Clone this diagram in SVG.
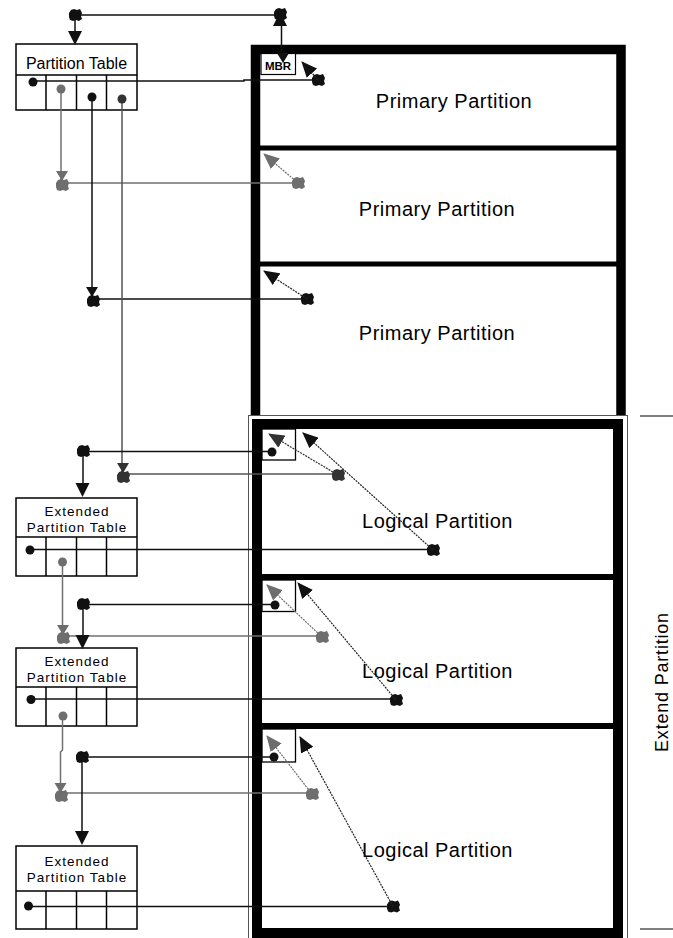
<svg xmlns="http://www.w3.org/2000/svg" xmlns:xlink="http://www.w3.org/1999/xlink" width="673" height="938" viewBox="0 0 673 938">
<style>
.lbl{font-family:"Liberation Sans",Arial,sans-serif;font-size:20px;letter-spacing:0.5px;text-anchor:middle;fill:#000}
.side{font-family:"Liberation Sans",Arial,sans-serif;font-size:18px;letter-spacing:0.8px;text-anchor:middle;fill:#000}
.tl{font-family:"Liberation Sans",Arial,sans-serif;font-size:16px;text-anchor:middle;fill:#000}
.tx{font-family:"Liberation Sans",Arial,sans-serif;font-size:13.5px;letter-spacing:1px;text-anchor:middle;fill:#000}
.box{fill:#fff;stroke:#000;stroke-width:1.5}
.ln{fill:none;stroke:#000;stroke-width:1.5}
.cb{fill:none;stroke:#111;stroke-width:1.5}
.cg{fill:none;stroke:#707070;stroke-width:1.5}
.cd{fill:none;stroke:#555;stroke-width:1.5}
.db{fill:none;stroke:#222;stroke-width:1.2;stroke-dasharray:2 1}
.dg{fill:none;stroke:#707070;stroke-width:1.2;stroke-dasharray:2 1}
.dd{fill:none;stroke:#333;stroke-width:1.2;stroke-dasharray:2 1}
.k{fill:#111}.g{fill:#6e6e6e}.d{fill:#333}
</style>
<defs>
<path id="tri" d="M-7,-7 L7,-7 L0,7 Z"/>
<path id="trs" d="M-6,-5 L6,-5 L0,5 Z"/>
<path id="blob" d="M-6,-2 L-4,-5 L-1,-6 L2,-5 L5,-6 L7,-2 L6,1 L7,4 L4,6 L1,5 L-2,6 L-5,5 L-6,2 Z"/>
<circle id="dot" r="4.5"/>
<marker id="ab" markerUnits="userSpaceOnUse" viewBox="0 0 16 14" markerWidth="16" markerHeight="14" refX="15" refY="7" orient="auto"><path d="M0,0 L16,7 L0,14 Z" fill="#111"/></marker>
<marker id="ag" markerUnits="userSpaceOnUse" viewBox="0 0 16 14" markerWidth="16" markerHeight="14" refX="15" refY="7" orient="auto"><path d="M0,0 L16,7 L0,14 Z" fill="#6e6e6e"/></marker>
<marker id="ad" markerUnits="userSpaceOnUse" viewBox="0 0 16 14" markerWidth="16" markerHeight="14" refX="15" refY="7" orient="auto"><path d="M0,0 L16,7 L0,14 Z" fill="#333"/></marker>
</defs>
<rect width="673" height="938" fill="#fff"/>

<g id="disk">
<path d="M255.5,416 V49.5 H621 V416" fill="none" stroke="#000" stroke-width="9.5" stroke-linejoin="miter"/>
<line x1="256" y1="148" x2="621" y2="148" stroke="#000" stroke-width="5"/>
<line x1="256" y1="264" x2="621" y2="264" stroke="#000" stroke-width="5"/>
</g>

<g id="primary-1"><text class="lbl" x="454" y="108">Primary Partition</text></g>
<g id="primary-2"><text class="lbl" x="437" y="216">Primary Partition</text></g>
<g id="primary-3"><text class="lbl" x="437" y="340">Primary Partition</text></g>

<g id="extended-partition">
<rect x="248.5" y="415.5" width="379" height="540" fill="#fff" stroke="#555" stroke-width="1"/>
<rect x="257" y="424" width="361" height="509" fill="#fff" stroke="#000" stroke-width="10"/>
<line x1="257" y1="577" x2="618" y2="577" stroke="#000" stroke-width="6"/>
<line x1="257" y1="726" x2="618" y2="726" stroke="#000" stroke-width="6"/>
<line x1="640" y1="416" x2="673" y2="416" stroke="#000" stroke-width="1.2"/>
<line x1="640" y1="929" x2="673" y2="929" stroke="#000" stroke-width="1.2"/>
<text class="side" transform="translate(668,682) rotate(-90)">Extend Partition</text>
</g>

<g id="mbr">
<rect x="261" y="53.5" width="34.5" height="21" fill="#fff" stroke="#000" stroke-width="1.2"/>
</g>

<g id="logical-1">
<text class="lbl" x="437.5" y="528">Logical Partition</text>
<rect id="ebr-1" x="262" y="429" width="33.5" height="31" fill="none" stroke="#000" stroke-width="1.3"/>
</g>
<g id="logical-2">
<text class="lbl" x="437.5" y="678">Logical Partition</text>
<rect id="ebr-2" x="262" y="580" width="33.5" height="31.5" fill="none" stroke="#000" stroke-width="1.3"/>
</g>
<g id="logical-3">
<text class="lbl" x="437.5" y="857">Logical Partition</text>
<rect id="ebr-3" x="262" y="729" width="33.5" height="33" fill="none" stroke="#000" stroke-width="1.3"/>
</g>

<g id="partition-table">
<rect class="box" x="16" y="44" width="121" height="66"/>
<line class="ln" x1="16" y1="75" x2="137" y2="75"/>
<line class="ln" x1="46" y1="75" x2="46" y2="110"/>
<line class="ln" x1="76.5" y1="75" x2="76.5" y2="110"/>
<line class="ln" x1="106.5" y1="75" x2="106.5" y2="110"/>
<text class="tl" x="76.5" y="68.5">Partition Table</text>
</g>

<g id="ext-table-1">
<rect class="box" x="16" y="498" width="121" height="78"/>
<line class="ln" x1="16" y1="537" x2="137" y2="537"/>
<line class="ln" x1="46" y1="537" x2="46" y2="576"/>
<line class="ln" x1="76.5" y1="537" x2="76.5" y2="576"/>
<line class="ln" x1="106.5" y1="537" x2="106.5" y2="576"/>
<text class="tx" x="77" y="516">Extended</text>
<text class="tx" x="77" y="532">Partition Table</text>
</g>

<g id="ext-table-2">
<rect class="box" x="16" y="648" width="121" height="78"/>
<line class="ln" x1="16" y1="687" x2="137" y2="687"/>
<line class="ln" x1="46" y1="687" x2="46" y2="726"/>
<line class="ln" x1="76.5" y1="687" x2="76.5" y2="726"/>
<line class="ln" x1="106.5" y1="687" x2="106.5" y2="726"/>
<text class="tx" x="77" y="666">Extended</text>
<text class="tx" x="77" y="682">Partition Table</text>
</g>

<g id="ext-table-3">
<rect class="box" x="16" y="846" width="121" height="83"/>
<line class="ln" x1="16" y1="891" x2="137" y2="891"/>
<line class="ln" x1="46" y1="891" x2="46" y2="929"/>
<line class="ln" x1="76.5" y1="891" x2="76.5" y2="929"/>
<line class="ln" x1="106.5" y1="891" x2="106.5" y2="929"/>
<text class="tx" x="77" y="866">Extended</text>
<text class="tx" x="77" y="882">Partition Table</text>
</g>

<g id="connectors">
<!-- top: partition table <-> MBR -->
<path class="cb" d="M75,15 H280 M75,15 V32 M281.5,15 V54"/>
<use href="#blob" x="75" y="15" class="k"/>
<use href="#tri" x="75" y="38" class="k"/>
<use href="#blob" x="280" y="14" class="k"/>
<path d="M280,12 L287,26 L273,26 Z" class="k"/>
<use href="#trs" x="283" y="58" class="k"/>
<!-- slot 1 -> primary 1 -->
<path class="cb" d="M33,81 H244 V80 H318"/>
<use href="#dot" x="33" y="82" class="k"/>
<use href="#blob" x="318" y="80" class="k"/>
<line class="db" x1="318" y1="80" x2="302" y2="62" marker-end="url(#ab)"/>
<!-- slot 2 -> primary 2 -->
<path class="cg" d="M61,89 V183 H298"/>
<use href="#dot" x="61" y="89" class="g"/>
<use href="#trs" x="62" y="176" class="g"/>
<use href="#blob" x="62" y="185" class="g"/>
<use href="#blob" x="298" y="183" class="g"/>
<line class="dg" x1="298" y1="183" x2="264" y2="154" marker-end="url(#ag)"/>
<!-- slot 3 -> primary 3 -->
<path class="cb" d="M92,97 V299 H307"/>
<use href="#dot" x="92" y="97" class="k"/>
<use href="#trs" x="92" y="292" class="k"/>
<use href="#blob" x="93" y="301" class="k"/>
<use href="#blob" x="307" y="299" class="k"/>
<line class="db" x1="307" y1="299" x2="264" y2="271" marker-end="url(#ab)"/>
<!-- slot 4 -> extended / logical 1 -->
<path class="cd" d="M122,99 V474 H338"/>
<use href="#dot" x="122" y="99" class="d"/>
<use href="#trs" x="123" y="468" class="d"/>
<use href="#blob" x="123" y="477" class="d"/>
<use href="#blob" x="338" y="475" class="d"/>
<line class="dd" x1="338" y1="475" x2="269" y2="434" marker-end="url(#ad)"/>
<!-- EBR1 -> ext table 1 -->
<path class="cb" d="M273,451.5 H83 V485"/>
<use href="#dot" x="272" y="452" class="k"/>
<use href="#blob" x="83" y="451" class="k"/>
<use href="#tri" x="82.5" y="490" class="k"/>
<!-- ext table 1 slot 1 -> logical 1 -->
<path class="cb" d="M30,549.5 H433"/>
<use href="#dot" x="30" y="550" class="k"/>
<use href="#blob" x="433" y="550" class="k"/>
<line class="db" x1="433" y1="550" x2="303" y2="433" marker-end="url(#ab)"/>
<!-- ext table 1 slot 2 -> logical 2 -->
<path class="cg" d="M62.5,562 V636 H322"/>
<use href="#dot" x="62.5" y="562" class="g"/>
<use href="#trs" x="63" y="630" class="g"/>
<use href="#blob" x="63" y="638" class="g"/>
<use href="#blob" x="322" y="637" class="g"/>
<line class="dg" x1="322" y1="637" x2="267" y2="585" marker-end="url(#ag)"/>
<!-- EBR2 -> ext table 2 -->
<path class="cb" d="M275,604.5 H83 V637"/>
<use href="#dot" x="275" y="605" class="k"/>
<use href="#blob" x="83" y="604" class="k"/>
<use href="#tri" x="82.5" y="642" class="k"/>
<!-- ext table 2 slot 1 -> logical 2 -->
<path class="cb" d="M31,699 H396"/>
<use href="#dot" x="31" y="699.5" class="k"/>
<use href="#blob" x="396" y="700" class="k"/>
<line class="db" x1="396" y1="700" x2="298" y2="583" marker-end="url(#ab)"/>
<!-- ext table 2 slot 2 -> logical 3 -->
<path class="cg" d="M62.5,716 V750 L60.5,752 V793 H312"/>
<use href="#dot" x="63" y="716" class="g"/>
<use href="#trs" x="60.5" y="788" class="g"/>
<use href="#blob" x="61" y="796" class="g"/>
<use href="#blob" x="312" y="794" class="g"/>
<line class="dg" x1="312" y1="794" x2="267" y2="736" marker-end="url(#ag)"/>
<!-- EBR3 -> ext table 3 -->
<path class="cb" d="M274,757 H82 V832"/>
<use href="#dot" x="274" y="757" class="k"/>
<use href="#blob" x="82" y="757" class="k"/>
<use href="#tri" x="82" y="838" class="k"/>
<!-- ext table 3 slot 1 -> logical 3 -->
<path class="cb" d="M28.5,906.5 H393"/>
<use href="#dot" x="28.5" y="906" class="k"/>
<use href="#blob" x="393" y="906.5" class="k"/>
<line class="db" x1="393" y1="906.5" x2="300" y2="737" marker-end="url(#ab)"/>
</g>

<g id="mbr-label">
<text x="278" y="70" font-family="'Liberation Sans',Arial,sans-serif" font-size="11.5" font-weight="bold" text-anchor="middle" fill="#000">MBR</text>
</g>
</svg>
